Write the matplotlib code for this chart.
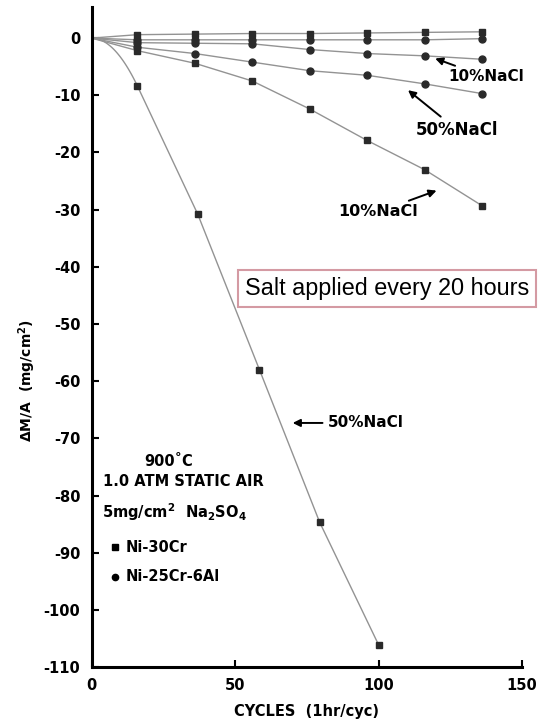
import numpy as np
import matplotlib
matplotlib.use("Agg")
import matplotlib.pyplot as plt

# ciclos de medida (1 hr/ciclo)
cycles = [0, 16, 36, 56, 76, 96, 116, 136]
cycles_nicr_50 = [0, 16, 37, 58.5, 79.5, 100]

# Ni-30Cr (cuadrados)
nicr_control = [0, 0.6, 0.7, 0.8, 0.8, 0.9, 1.0, 1.1]
nicr_10 = [0, -2.2, -4.4, -7.5, -12.4, -17.9, -23.0, -29.3]
nicr_50 = [0, -8.4, -30.8, -58.0, -84.7, -106.1]

# Ni-25Cr-6Al (circulos)
nicral_control = [0, -0.3, -0.3, -0.3, -0.3, -0.3, -0.3, -0.1]
nicral_10 = [0, -0.8, -0.9, -1.0, -2.0, -2.7, -3.1, -3.7]
nicral_50 = [0, -1.6, -2.7, -4.2, -5.7, -6.5, -8.0, -9.7]

line_color = "#939393"
mark_color = "#2a2a2a"
bold = dict(fontweight="bold", family="DejaVu Sans")
plt.rcParams["mathtext.fontset"] = "dejavusans"
plt.rcParams["axes.unicode_minus"] = False

fig = plt.figure(figsize=(5.45, 7.22), dpi=100)
ax = fig.add_axes([0.168, 0.076, 0.790, 0.914])


def serie(x, y, marker):
    ax.plot(x, y, "-", color=line_color, lw=1.0, zorder=2)
    ax.plot(x[1:], y[1:], marker, color=mark_color, ms=5, ls="none", zorder=3)


serie(cycles, nicr_control, "s")
serie(cycles, nicral_control, "o")
serie(cycles, nicral_10, "o")
serie(cycles, nicral_50, "o")
serie(cycles, nicr_10, "s")

# la curva 50% NaCl de Ni-30Cr arranca en forma de parabola hasta el primer punto
x0 = np.linspace(0, cycles_nicr_50[1], 30)
y0 = nicr_50[1] * (x0 / cycles_nicr_50[1]) ** 2
ax.plot(np.concatenate([x0, cycles_nicr_50[2:]]), np.concatenate([y0, nicr_50[2:]]),
        "-", color=line_color, lw=1.0, zorder=2)
ax.plot(cycles_nicr_50[1:], nicr_50[1:], "s", color=mark_color, ms=5, zorder=3)

# ejes
ax.set_xlim(0, 150)
ax.set_ylim(-110, 5.4)
ax.set_xticks([0, 50, 100, 150])
ax.set_yticks(np.arange(0, -111, -10))
for s in ["top", "right"]:
    ax.spines[s].set_visible(False)
for s in ["left", "bottom"]:
    ax.spines[s].set_linewidth(2.2)
ax.tick_params(direction="in", length=5, width=1.5, labelsize=10.5, pad=8)
for lab in ax.get_xticklabels() + ax.get_yticklabels():
    lab.set_fontweight("bold")
ax.set_xlabel("CYCLES  (1hr/cyc)", fontsize=10.5, labelpad=8, **bold)
ax.set_ylabel(r"ΔM/A  (mg/cm$^\mathbf{2}$)", fontsize=10, **bold)
ax.yaxis.set_label_coords(-0.125, 0.434)

# anotaciones con flechas
arrow = dict(arrowstyle="-|>", color="black", lw=1.4, mutation_scale=11)
ax.annotate("10%NaCl", xy=(118.8, -3.4), xytext=(124.2, -6.8), ha="left", va="center",
            fontsize=11, arrowprops=arrow, **bold)
ax.annotate("50%NaCl", xy=(109.5, -8.8), xytext=(113.1, -16.1), ha="left", va="center",
            fontsize=12, arrowprops=arrow, **bold)
ax.annotate("10%NaCl", xy=(121.1, -26.5), xytext=(113.7, -30.4), ha="right", va="center",
            fontsize=11.5, arrowprops=arrow, **bold)
ax.annotate("50%NaCl", xy=(69.1, -67.3), xytext=(82.4, -67.3), ha="left", va="center",
            fontsize=11, arrowprops=arrow, **bold)

# condiciones del ensayo
ax.text(27.0, -74.1, "900˚C", ha="center", va="center", fontsize=10.5, **bold)
ax.text(3.9, -77.6, "1.0 ATM STATIC AIR", ha="left", va="center", fontsize=10.5, **bold)
ax.text(3.8, -83.9, r"5mg/cm$^\mathbf{2}$  Na$_\mathbf{2}$SO$_\mathbf{4}$", ha="left",
        va="baseline", fontsize=10.5, **bold)
ax.plot([8.0], [-89.0], "s", color="black", ms=4.5)
ax.plot([8.0], [-94.2], "o", color="black", ms=4.5)
ax.text(12.0, -89.0, "Ni-30Cr", ha="left", va="center", fontsize=10.5, **bold)
ax.text(12.0, -94.2, "Ni-25Cr-6Al", ha="left", va="center", fontsize=10.5, **bold)

fig.text(387 / 545, 1 - 288 / 722, "Salt applied every 20 hours", ha="center", va="center",
         fontsize=16.8, family="Liberation Sans",
         bbox=dict(boxstyle="square,pad=0.3", fc="white", ec="#d49aa3", lw=1.5))

plt.savefig("out.png", dpi=100)
